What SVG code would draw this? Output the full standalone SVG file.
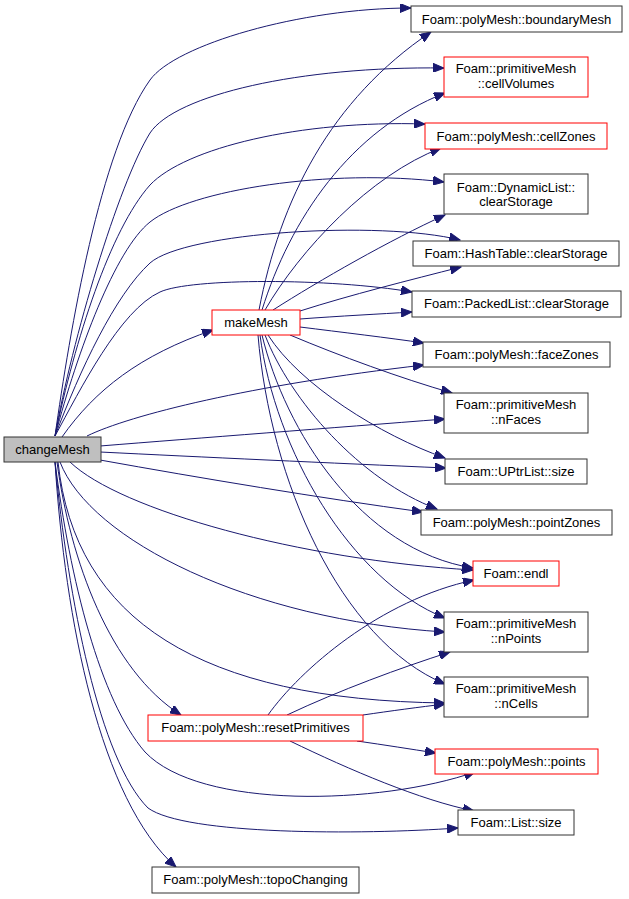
<svg xmlns="http://www.w3.org/2000/svg" width="629" height="899" viewBox="0 0 629 899">
<style>
.n rect{fill:#ffffff;stroke:#333333;stroke-width:1}
.n.r rect{stroke:#ff0000}
.n.g rect{fill:#bfbfbf}
.n text{font-family:"Liberation Sans",Arial,sans-serif;font-size:13px;fill:#000000;text-anchor:middle}
#edges path{fill:none;stroke:#191970;stroke-width:1;marker-end:url(#ah)}
</style>
<defs>
<marker id="ah" markerUnits="userSpaceOnUse" markerWidth="12" markerHeight="9" refX="11" refY="4.5" orient="auto">
<path d="M0,0 L11,4.5 L0,9 Z" fill="#191970" stroke="#191970" stroke-width="1"/>
</marker>
</defs>
<rect x="0" y="0" width="629" height="899" fill="#ffffff"/>
<g id="edges">
<!-- changeMesh upward -->
<path d="M55,436 C70,330 100,150 150,80 C175,45 300,8 411,8"/>
<path d="M55,436 C72,340 118,185 150,133 C175,95 300,66 444,68"/>
<path d="M55,436 C75,340 110,230 150,185 C185,148 300,120 425,124"/>
<path d="M55,436 C78,350 115,250 150,222 C190,190 330,168 444,182"/>
<path d="M55,436 C80,370 115,295 150,263 C185,232 380,220 460,240"/>
<path d="M55,436 C80,390 120,310 160,292 C190,278 330,278 412,292"/>
<path d="M62,437 C95,390 140,355 213,330"/>
<path d="M87,436 C130,415 250,385 424,365"/>
<path d="M100,446 C200,438 330,428 445,419"/>
<path d="M100,452 C200,457 330,463 446,468"/>
<path d="M100,460 C200,478 320,498 423,512"/>
<path d="M70,462 C120,510 300,560 473,570"/>
<path d="M60,462 C90,540 250,620 445,632"/>
<path d="M58,462 C75,620 200,700 445,703"/>
<path d="M57,462 C70,560 110,670 181,715"/>
<path d="M55,462 C70,580 100,700 145,752 C200,810 380,805 475,772"/>
<path d="M55,462 C68,600 100,760 148,808 C185,835 360,835 458,828"/>
<path d="M55,462 C65,620 100,800 176,867"/>
<!-- makeMesh -->
<path d="M259,310 C280,200 330,100 431,32"/>
<path d="M262,310 C290,220 350,130 445,93"/>
<path d="M265,310 C300,250 370,175 441,148"/>
<path d="M273,310 C320,280 390,240 445,215"/>
<path d="M300,311 C350,295 410,280 461,267"/>
<path d="M300,319 C340,316 380,314 412,312"/>
<path d="M300,327 C340,332 390,338 424,343"/>
<path d="M290,335 C340,356 400,378 452,393"/>
<path d="M268,335 C300,385 380,435 445,458"/>
<path d="M265,335 C290,400 360,480 437,509"/>
<path d="M262,335 C285,430 360,550 473,568"/>
<path d="M260,335 C275,450 350,580 445,618"/>
<path d="M258,335 C270,480 340,640 445,684"/>
<!-- resetPrimitives -->
<path d="M268,715 C300,670 380,600 474,580"/>
<path d="M287,715 C340,690 400,668 450,652"/>
<path d="M363,715 C390,711 420,707 445,704"/>
<path d="M357,741 C385,745 410,749 436,753"/>
<path d="M290,741 C350,770 420,800 474,811"/>
</g>
<g id="node-boundaryMesh" class="n"><rect x="411" y="6" width="211" height="26"/><text x="516.5" y="23.5">Foam::polyMesh::boundaryMesh</text></g>
<g id="node-cellVolumes" class="n r"><rect x="444" y="57" width="144" height="40"/><text x="516" y="72.5">Foam::primitiveMesh</text><text x="516" y="87.5">::cellVolumes</text></g>
<g id="node-cellZones" class="n r"><rect x="425" y="123" width="182" height="26"/><text x="516" y="140.5">Foam::polyMesh::cellZones</text></g>
<g id="node-DynamicList" class="n"><rect x="444" y="174" width="144" height="40"/><text x="516" y="191.5">Foam::DynamicList::</text><text x="516" y="205.5">clearStorage</text></g>
<g id="node-HashTable" class="n"><rect x="413" y="241" width="206" height="25"/><text x="516" y="258">Foam::HashTable::clearStorage</text></g>
<g id="node-PackedList" class="n"><rect x="412" y="291" width="209" height="26"/><text x="516.5" y="308">Foam::PackedList::clearStorage</text></g>
<g id="node-makeMesh" class="n r"><rect x="212" y="310" width="88" height="25"/><text x="256" y="327">makeMesh</text></g>
<g id="node-faceZones" class="n"><rect x="423" y="342" width="187" height="25"/><text x="516.5" y="359">Foam::polyMesh::faceZones</text></g>
<g id="node-nFaces" class="n"><rect x="444" y="393" width="144" height="40"/><text x="516" y="408.5">Foam::primitiveMesh</text><text x="516" y="423.5">::nFaces</text></g>
<g id="node-UPtrListSize" class="n"><rect x="445" y="459" width="142" height="25"/><text x="516" y="476">Foam::UPtrList::size</text></g>
<g id="node-pointZones" class="n"><rect x="421" y="510" width="191" height="25"/><text x="516.5" y="527">Foam::polyMesh::pointZones</text></g>
<g id="node-endl" class="n r"><rect x="473" y="561" width="86" height="25"/><text x="516" y="578">Foam::endl</text></g>
<g id="node-changeMesh" class="n g"><rect x="4" y="437" width="97" height="25"/><text x="52.5" y="454">changeMesh</text></g>
<g id="node-nPoints" class="n"><rect x="444" y="612" width="144" height="40"/><text x="516" y="627.5">Foam::primitiveMesh</text><text x="516" y="642.5">::nPoints</text></g>
<g id="node-nCells" class="n"><rect x="444" y="677" width="144" height="40"/><text x="516" y="692.5">Foam::primitiveMesh</text><text x="516" y="707.5">::nCells</text></g>
<g id="node-resetPrimitives" class="n r"><rect x="148" y="715" width="215" height="26"/><text x="255.5" y="732">Foam::polyMesh::resetPrimitives</text></g>
<g id="node-points" class="n r"><rect x="435" y="749" width="163" height="25"/><text x="516.5" y="766">Foam::polyMesh::points</text></g>
<g id="node-ListSize" class="n"><rect x="458" y="810" width="116" height="25"/><text x="516" y="827">Foam::List::size</text></g>
<g id="node-topoChanging" class="n"><rect x="152" y="867" width="207" height="26"/><text x="255.5" y="884">Foam::polyMesh::topoChanging</text></g>
</svg>
